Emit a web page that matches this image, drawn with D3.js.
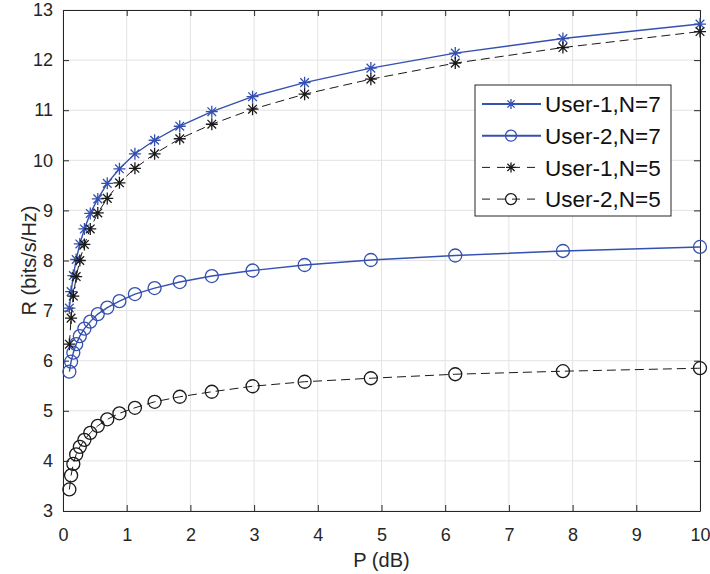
<!DOCTYPE html>
<html>
<head>
<meta charset="utf-8">
<script src="https://cdn.jsdelivr.net/npm/d3@7"></script>
<style>
  html, body { margin: 0; padding: 0; background: #fff; }
  svg { display: block; font-family: "Liberation Sans", Arial, Helvetica, sans-serif; }
</style>
</head>
<body>
<svg id="chart" width="710" height="574"></svg>
<script>
// Transmit power P (dB) at which each curve is sampled
const pValues = [0.1, 0.127, 0.162, 0.207, 0.264, 0.336, 0.428, 0.546, 0.695, 0.886,
                 1.129, 1.438, 1.833, 2.336, 2.976, 3.793, 4.833, 6.158, 7.848, 10];

// Achievable rate R (bits/s/Hz)
const user1N7 = [7.05, 7.38, 7.70, 8.02, 8.33, 8.63, 8.94, 9.23, 9.54, 9.83,
                 10.13, 10.40, 10.68, 10.97, 11.27, 11.55, 11.84, 12.14, 12.43, 12.72];
const user2N7 = [5.78, 5.98, 6.16, 6.33, 6.49, 6.64, 6.78, 6.93, 7.06, 7.19,
                 7.33, 7.45, 7.57, 7.69, 7.80, 7.91, 8.01, 8.10, 8.19, 8.27];
const user1N5 = [6.33, 6.85, 7.29, 7.68, 8.00, 8.32, 8.63, 8.95, 9.24, 9.55,
                 9.84, 10.13, 10.43, 10.72, 11.02, 11.32, 11.62, 11.94, 12.25, 12.57];
const user2N5 = [3.43, 3.71, 3.94, 4.13, 4.28, 4.42, 4.56, 4.70, 4.83, 4.95,
                 5.06, 5.18, 5.28, 5.38, 5.49, 5.58, 5.65, 5.73, 5.79, 5.85];

const seriesNames = ["User-1,N=7", "User-2,N=7", "User-1,N=5", "User-2,N=5"];
const xTicks = [0, 1, 2, 3, 4, 5, 6, 7, 8, 9, 10];
const yTicks = [3, 4, 5, 6, 7, 8, 9, 10, 11, 12, 13];

const BLUE = "#3450b0";
const BLACK = "#1a1a1a";
const AXIS = "#262626";

const series = [
  { name: seriesNames[0], values: user1N7, color: BLUE,  dash: null,  marker: "star" },
  { name: seriesNames[1], values: user2N7, color: BLUE,  dash: null,  marker: "circle" },
  { name: seriesNames[2], values: user1N5, color: BLACK, dash: "9,5", marker: "star" },
  { name: seriesNames[3], values: user2N5, color: BLACK, dash: "9,5", marker: "circle" }
];

const svg = d3.select("#chart");
const m = { left: 63, right: 10, top: 10, bottom: 63 };
const W = 710, H = 574;
const x = d3.scaleLinear().domain([0, 10]).range([m.left, W - m.right]);
const y = d3.scaleLinear().domain([3, 13]).range([H - m.bottom, m.top]);

// grid
const grid = svg.append("g").attr("stroke", "#e3e3e3").attr("stroke-width", 1);
xTicks.forEach(t => grid.append("line")
  .attr("x1", x(t)).attr("x2", x(t)).attr("y1", y(3)).attr("y2", y(13)));
yTicks.forEach(t => grid.append("line")
  .attr("x1", x(0)).attr("x2", x(10)).attr("y1", y(t)).attr("y2", y(t)));

// axes with inward ticks on all four sides
const tickLen = 6;
const fmt = d3.format("d");
function styleAxis(g) {
  g.selectAll("path").attr("stroke", AXIS).attr("stroke-width", 1);
  g.selectAll("line").attr("stroke", AXIS);
  g.selectAll("text").attr("fill", AXIS).attr("font-size", 18)
    .attr("font-family", '"Liberation Sans", Arial, Helvetica, sans-serif');
}
svg.append("g").attr("transform", `translate(0,${y(3)})`)
  .call(d3.axisBottom(x).tickValues(xTicks).tickFormat(fmt).tickSizeInner(-tickLen).tickSizeOuter(0).tickPadding(17))
  .call(styleAxis);
svg.append("g").attr("transform", `translate(0,${y(13)})`)
  .call(d3.axisTop(x).tickValues(xTicks).tickFormat("").tickSizeInner(-tickLen).tickSizeOuter(0))
  .call(styleAxis);
svg.append("g").attr("transform", `translate(${x(0)},0)`)
  .call(d3.axisLeft(y).tickValues(yTicks).tickFormat(fmt).tickSizeInner(-tickLen).tickSizeOuter(0).tickPadding(10))
  .call(styleAxis);
svg.append("g").attr("transform", `translate(${x(10)},0)`)
  .call(d3.axisRight(y).tickValues(yTicks).tickFormat("").tickSizeInner(-tickLen).tickSizeOuter(0))
  .call(styleAxis);

// axis titles
svg.append("text")
  .attr("x", x(5)).attr("y", 567)
  .attr("text-anchor", "middle").attr("font-size", 20).attr("fill", AXIS)
  .text("P (dB)");
svg.append("text")
  .attr("transform", `translate(36,${(y(3) + y(13)) / 2}) rotate(-90)`)
  .attr("text-anchor", "middle").attr("font-size", 20).attr("fill", AXIS)
  .text("R (bits/s/Hz)");

// marker drawing helpers
function starPath(r) {
  const d = r * 0.72;
  return `M0,${-r}V${r}M${-r},0H${r}M${-d},${-d}L${d},${d}M${-d},${d}L${d},${-d}`;
}
function drawMarker(g, kind, color, cx, cy, r) {
  if (kind === "star") {
    g.append("path").attr("d", starPath(r))
      .attr("transform", `translate(${cx},${cy})`)
      .attr("stroke", color).attr("stroke-width", 1.3).attr("fill", "none");
  } else {
    g.append("circle").attr("cx", cx).attr("cy", cy).attr("r", r)
      .attr("stroke", color).attr("stroke-width", 1.3).attr("fill", "none");
  }
}

// curves
const line = d3.line().x(d => x(d[0])).y(d => y(d[1]));
const plot = svg.append("g");
series.forEach(s => {
  const pts = pValues.map((p, i) => [p, s.values[i]]);
  plot.append("path").datum(pts).attr("d", line)
    .attr("fill", "none").attr("stroke", s.color)
    .attr("stroke-width", s.dash ? 1 : 1.4)
    .attr("stroke-dasharray", s.dash);
  const mg = plot.append("g");
  pts.forEach(d => drawMarker(mg, s.marker, s.color, x(d[0]), y(d[1]), s.marker === "star" ? 6 : 6.5));
});

// legend
const lg = svg.append("g");
const lx = 475, ly = 85, lw = 196, lh = 131;
lg.append("rect").attr("x", lx).attr("y", ly).attr("width", lw).attr("height", lh)
  .attr("fill", "#fff").attr("stroke", AXIS).attr("stroke-width", 1);
series.forEach((s, i) => {
  const cy = ly + 19 + i * 31.7;
  lg.append("line").attr("x1", lx + 7).attr("x2", lx + 66).attr("y1", cy).attr("y2", cy)
    .attr("stroke", s.color).attr("stroke-width", s.dash ? 1 : 2)
    .attr("stroke-dasharray", s.dash ? "8,7" : null);
  drawMarker(lg, s.marker, s.color, lx + 36, cy, s.marker === "star" ? 5 : 5.5);
  lg.append("text").attr("x", lx + 70).attr("y", cy).attr("dy", "0.36em")
    .attr("font-size", 22.5).attr("fill", "#111").text(s.name);
});
</script>
</body>
</html>
